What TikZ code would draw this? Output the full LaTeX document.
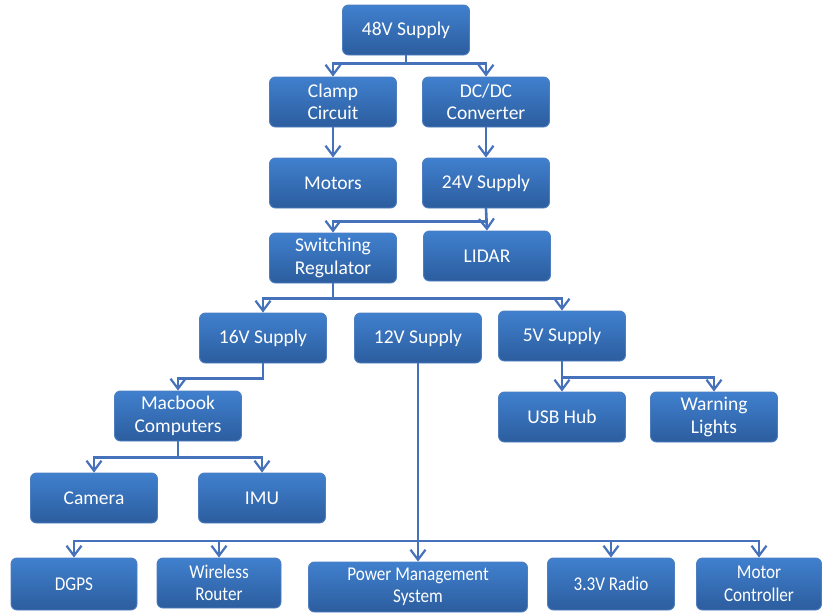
\documentclass[tikz,border=0pt]{standalone}
\usepackage{fontspec}
\setmainfont{Carlito}
\newfontfamily\narrowfont[FakeStretch=0.88]{Carlito}
\usetikzlibrary{arrows.meta}
\definecolor{boxtop}{RGB}{64,128,206}
\definecolor{boxbot}{RGB}{44,93,158}
\definecolor{boxedge}{RGB}{78,126,192}
\definecolor{wire}{RGB}{70,114,188}
\tikzset{
  blk/.style={rounded corners=6pt, draw=boxedge, line width=0.9pt,
    top color=boxtop, bottom color=boxbot, text=white,
    minimum width=127pt, minimum height=50pt, inner sep=0pt,
    align=center, font=\fontsize{19.5}{22.5}\selectfont},
  lowblk/.style={blk, font=\narrowfont\fontsize{19.5}{22.5}\selectfont},
  wireline/.style={draw=wire, line width=2.6pt},
  conn/.style={wireline, -{Straight Barb[length=10pt,width=15pt,line width=2.2pt]}},
}
\begin{document}
\begin{tikzpicture}[x=1pt,y=-1pt]
\useasboundingbox (0,0) rectangle (823,613);

% top chain
\node[blk] (s48)   at (406,30)  {48V Supply};
\node[blk] (clamp) at (333,102) {Clamp\\Circuit};
\node[blk] (dcdc)  at (486,102) {DC/DC\\Converter};
\node[blk] (motors) at (333,183) {Motors};
\node[blk] (s24)   at (486,183) {24V Supply};
\node[blk] (swreg) at (333,258) {Switching\\Regulator};
\node[blk] (lidar) at (487,256) {LIDAR};

% regulated supplies
\node[blk] (s16) at (263,338) {16V Supply};
\node[blk] (s12) at (418,338) {12V Supply};
\node[blk] (s5)  at (562,336) {5V Supply};

% loads
\node[blk] (mac)  at (178,416) {Macbook\\Computers};
\node[blk] (usb)  at (562,417) {USB Hub};
\node[blk] (warn) at (714,417) {Warning\\Lights};
\node[blk] (cam)  at (94,498)  {Camera};
\node[blk] (imu)  at (262,498) {IMU};

% bottom row
\node[lowblk, minimum width=126pt, minimum height=52pt] (dgps)  at (74,584)  {DGPS};
\node[lowblk, minimum width=124pt, minimum height=50pt] (wifi)  at (219,583) {Wireless\\Router};
\node[lowblk, minimum width=219pt, minimum height=50pt] (pms)   at (418,587) {Power Management\\System};
\node[lowblk, minimum width=127pt, minimum height=52pt] (radio) at (611,584) {3.3V Radio};
\node[lowblk, minimum width=125pt, minimum height=52pt] (motc)  at (759,584) {Motor\\Controller};

% connectors
\draw[conn] (s48.south) -- ++(0,8) -| (clamp.north);
\draw[conn] (s48.south) -- ++(0,8) -| (dcdc.north);
\draw[conn] (clamp.south) -- (motors.north);
\draw[conn] (dcdc.south) -- (s24.north);
\draw[conn] (s24.south) -- ++(0,13) -| (swreg.north);
\draw[conn] (s24.south) -- (lidar.north);
\draw[conn] (swreg.south) -- ++(0,15) -| (s16.north);
\draw[conn] (swreg.south) -- ++(0,15) -| (s5.north);
\draw[conn] (s16.south) -- ++(0,15) -| (mac.north);
\draw[conn] (mac.south) -- ++(0,16) -| (cam.north);
\draw[conn] (mac.south) -- ++(0,16) -| (imu.north);
\draw[conn] (s5.south) -- ++(0,16) -| (usb.north);
\draw[conn] (s5.south) -- ++(0,16) -| (warn.north);
\coordinate (bus12) at (418,541);
\draw[wireline] (s12.south) -- (bus12);
\foreach \n in {dgps,wifi,pms,radio,motc}
  \draw[conn] (bus12) -| (\n.north);
\end{tikzpicture}
\end{document}
